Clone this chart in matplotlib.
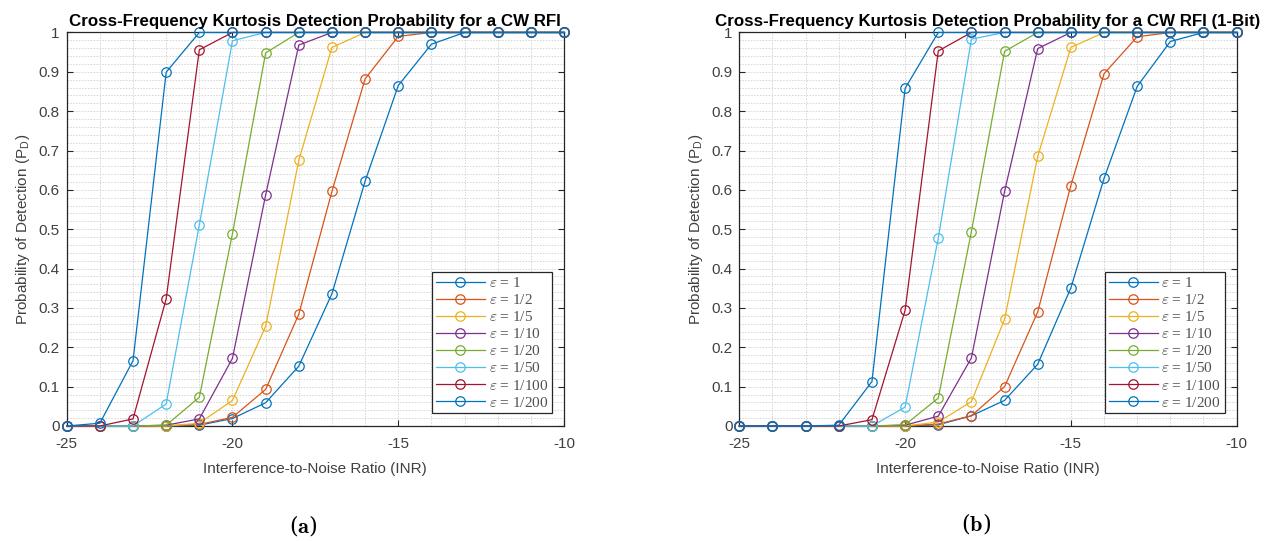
import numpy as np
import matplotlib
matplotlib.use("Agg")
import matplotlib.pyplot as plt
import matplotlib.ticker as tick
from matplotlib import rcParams

rcParams['font.family'] = 'sans-serif'
rcParams['font.sans-serif'] = ['Liberation Sans', 'DejaVu Sans']
rcParams['mathtext.fontset'] = 'cm'
rcParams['axes.unicode_minus'] = False

#####################################

INR = [-25, -24, -23, -22, -21, -20, -19, -18, -17, -16, -15, -14, -13, -12, -11, -10]

EPS_LABELS = [r"$\varepsilon$ = 1", r"$\varepsilon$ = 1/2", r"$\varepsilon$ = 1/5",
              r"$\varepsilon$ = 1/10", r"$\varepsilon$ = 1/20", r"$\varepsilon$ = 1/50",
              r"$\varepsilon$ = 1/100", r"$\varepsilon$ = 1/200"]

# (a) full resolution
pd_a_1     = [0, 0, 0, 0, 0.002, 0.019, 0.059, 0.152, 0.336, 0.622, 0.865, 0.970, 1, 1, 1, 1]
pd_a_1_2   = [0, 0, 0, 0, 0.004, 0.022, 0.093, 0.284, 0.596, 0.882, 0.990, 1, 1, 1, 1, 1]
pd_a_1_5   = [0, 0, 0, 0, 0.007, 0.065, 0.253, 0.675, 0.962, 1, 1, 1, 1, 1, 1, 1]
pd_a_1_10  = [0, 0, 0, 0.002, 0.018, 0.172, 0.587, 0.968, 1, 1, 1, 1, 1, 1, 1, 1]
pd_a_1_20  = [0, 0, 0, 0.002, 0.073, 0.489, 0.948, 1, 1, 1, 1, 1, 1, 1, 1, 1]
pd_a_1_50  = [0, 0, 0, 0.056, 0.511, 0.979, 1, 1, 1, 1, 1, 1, 1, 1, 1, 1]
pd_a_1_100 = [0, 0, 0.018, 0.323, 0.956, 1, 1, 1, 1, 1, 1, 1, 1, 1, 1, 1]
pd_a_1_200 = [0, 0.007, 0.166, 0.899, 1, 1, 1, 1, 1, 1, 1, 1, 1, 1, 1, 1]

# (b) 1-bit
pd_b_1     = [0, 0, 0, 0, 0, 0, 0.003, 0.026, 0.065, 0.157, 0.351, 0.629, 0.863, 0.977, 1, 1]
pd_b_1_2   = [0, 0, 0, 0, 0, 0, 0.005, 0.026, 0.100, 0.290, 0.611, 0.895, 0.989, 1, 1, 1]
pd_b_1_5   = [0, 0, 0, 0, 0, 0, 0.010, 0.062, 0.271, 0.685, 0.962, 1, 1, 1, 1, 1]
pd_b_1_10  = [0, 0, 0, 0, 0, 0.002, 0.025, 0.173, 0.596, 0.959, 1, 1, 1, 1, 1, 1]
pd_b_1_20  = [0, 0, 0, 0, 0, 0.003, 0.071, 0.494, 0.952, 1, 1, 1, 1, 1, 1, 1]
pd_b_1_50  = [0, 0, 0, 0, 0, 0.048, 0.477, 0.983, 1, 1, 1, 1, 1, 1, 1, 1]
pd_b_1_100 = [0, 0, 0, 0, 0.016, 0.294, 0.953, 1, 1, 1, 1, 1, 1, 1, 1, 1]
pd_b_1_200 = [0, 0, 0, 0.002, 0.113, 0.858, 1, 1, 1, 1, 1, 1, 1, 1, 1, 1]

PD_A = [pd_a_1, pd_a_1_2, pd_a_1_5, pd_a_1_10, pd_a_1_20, pd_a_1_50, pd_a_1_100, pd_a_1_200]
PD_B = [pd_b_1, pd_b_1_2, pd_b_1_5, pd_b_1_10, pd_b_1_20, pd_b_1_50, pd_b_1_100, pd_b_1_200]

COLORS = ["#0072BD", "#D95319", "#EDB120", "#7E2F8E", "#77AC30", "#4DBEEE", "#A2142F", "#0072BD"]

####################################

def draw_panel(ax, curves, title):
    for y, c, lab in zip(curves, COLORS, EPS_LABELS):
        ax.plot(INR, y, color=c, lw=0.9, marker="o", ms=6.8, mfc="none", mew=0.9,
                label=lab, clip_on=False, zorder=3)

    ax.set_xlim(-25, -10)
    ax.set_ylim(0, 1)
    ax.xaxis.set_major_locator(tick.MultipleLocator(5))
    ax.xaxis.set_minor_locator(tick.MultipleLocator(1))
    ax.yaxis.set_major_locator(tick.MultipleLocator(0.1))
    ax.yaxis.set_minor_locator(tick.MultipleLocator(0.02))
    ax.yaxis.set_major_formatter(tick.FuncFormatter(lambda v, p: f"{v:g}"))

    ax.grid(which="both", color="#d4d4d4", ls=(0, (1.5, 1.5)), lw=0.7)
    ax.set_axisbelow(True)
    ax.tick_params(which="major", direction="in", length=4, width=0.8, top=True, right=True,
                   labelsize=11, colors="#262626", labelcolor="#404040")
    ax.tick_params(axis="x", which="major", pad=8)
    ax.tick_params(axis="y", which="major", pad=5)
    ax.tick_params(which="minor", length=0)
    for s in ax.spines.values():
        s.set_color("#262626")
        s.set_linewidth(0.9)

    ax.set_title(title, fontsize=12.2, fontweight="bold", pad=5)
    ax.set_xlabel("Interference-to-Noise Ratio (INR)", fontsize=11, color="#404040", labelpad=8)
    ax.set_ylabel(r"Probability of Detection (P$_\mathregular{D}$)", fontsize=11, color="#404040")
    ax.yaxis.set_label_coords(-0.07, 0.5)

    leg = ax.legend(loc="lower right", bbox_to_anchor=(0.976, 0.032),
                    prop={"family": "Liberation Serif", "size": 11},
                    handlelength=3.2, labelspacing=0.2, borderpad=0.25, handletextpad=0.25,
                    fancybox=False, framealpha=1, edgecolor="#262626", borderaxespad=0)
    leg.get_frame().set_linewidth(0.9)
    for t in leg.get_texts():
        t.set_color("#505050")


fig = plt.figure(figsize=(12.66, 5.41), dpi=100)
ax1 = fig.add_axes([0.0527, 0.2126, 0.3928, 0.7274])
ax2 = fig.add_axes([0.584, 0.2126, 0.3928, 0.7274])

draw_panel(ax1, PD_A, "Cross-Frequency Kurtosis Detection Probability for a CW RFI")
draw_panel(ax2, PD_B, "Cross-Frequency Kurtosis Detection Probability for a CW RFI (1-Bit)")

fig.text(303 / 1266, 1 - 526 / 541, r"($\mathbf{a}$)", fontsize=16, family="DejaVu Serif",
         ha="center", va="center")
fig.text(976 / 1266, 1 - 524 / 541, r"($\mathbf{b}$)", fontsize=16, family="DejaVu Serif",
         ha="center", va="center")

plt.savefig("out.png", dpi=100)
